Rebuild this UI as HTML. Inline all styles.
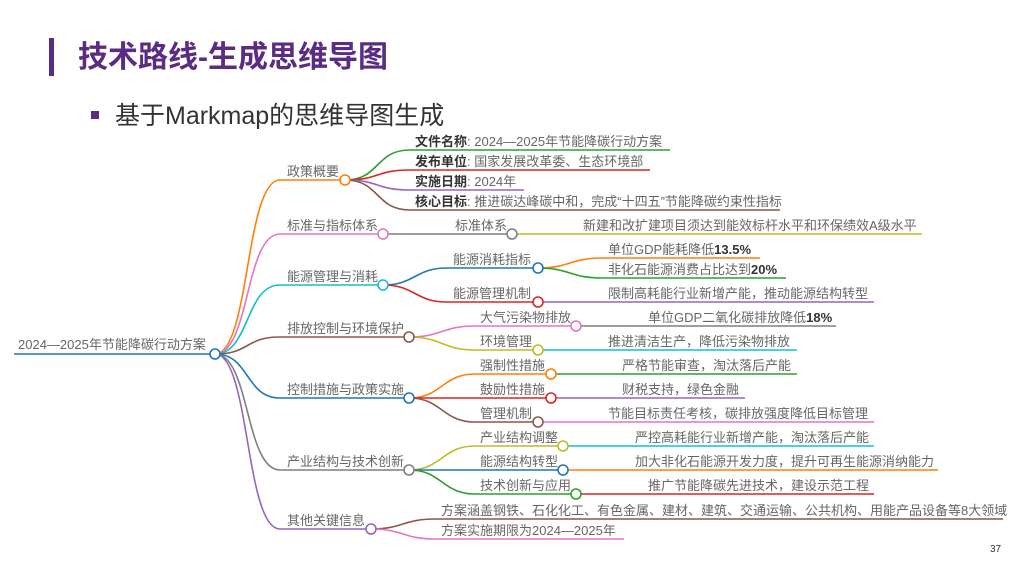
<!DOCTYPE html>
<html><head><meta charset="utf-8"><style>
body{margin:0;width:1024px;height:576px;overflow:hidden;background:#fff}
svg{display:block}
text{font-family:"Liberation Sans","Noto Sans CJK SC",sans-serif}
.t{font-size:13px;fill:#666}
.b{font-weight:bold;fill:#333}
path{fill:none;stroke-width:1.6}
circle{fill:#fff;stroke-width:1.6}
</style></head><body>
<svg width="1024" height="576" viewBox="0 0 1024 576">
<rect x="49" y="38" width="5" height="38" fill="#5b2c83"/>
<text x="78" y="67" font-size="30" font-weight="bold" fill="#5b2c83">技术路线-生成思维导图</text>
<rect x="91" y="111" width="8" height="8" fill="#5b2c83"/>
<text x="115" y="124" font-size="25" fill="#333">基于Markmap的思维导图生成</text>
<text x="990" y="552" font-size="10" fill="#333">37</text>

<path d="M14 354 H210" stroke="#1f77b4"/>
<text class="t" x="18" y="349">2024—2025年节能降碳行动方案</text>

<path d="M215 354 C250 354,245 180,280 180 H340" stroke="#ff7f0e"/>
<path d="M215 354 C250 354,245 234,280 234 H378" stroke="#e377c2"/>
<path d="M215 354 C250 354,245 285,280 285 H378" stroke="#17becf"/>
<path d="M215 354 C250 354,245 337,280 337 H404" stroke="#8c564b"/>
<path d="M215 354 C250 354,245 398,280 398 H404" stroke="#1f77b4"/>
<path d="M215 354 C250 354,245 470,280 470 H404" stroke="#7f7f7f"/>
<path d="M215 354 C250 354,245 529,280 529 H366" stroke="#9467bd"/>
<text class="t" x="287" y="176">政策概要</text>
<text class="t" x="287" y="230">标准与指标体系</text>
<text class="t" x="287" y="281">能源管理与消耗</text>
<text class="t" x="287" y="333">排放控制与环境保护</text>
<text class="t" x="287" y="394">控制措施与政策实施</text>
<text class="t" x="287" y="466">产业结构与技术创新</text>
<text class="t" x="287" y="525">其他关键信息</text>

<path d="M345 180 C380 180,375 150,410 150 H670" stroke="#2ca02c"/>
<path d="M345 180 C380 180,375 170,410 170 H650" stroke="#d62728"/>
<path d="M345 180 C380 180,375 190,410 190 H524" stroke="#9467bd"/>
<path d="M345 180 C380 180,375 210,410 210 H780" stroke="#8c564b"/>
<text class="t" x="415" y="146"><tspan class="b">文件名称</tspan>: 2024—2025年节能降碳行动方案</text>
<text class="t" x="415" y="166"><tspan class="b">发布单位</tspan>: 国家发展改革委、生态环境部</text>
<text class="t" x="415" y="186"><tspan class="b">实施日期</tspan>: 2024年</text>
<text class="t" x="415" y="206"><tspan class="b">核心目标</tspan>: 推进碳达峰碳中和，完成“十四五”节能降碳约束性指标</text>

<path d="M383 234 H507" stroke="#7f7f7f"/>
<path d="M512 234 H922" stroke="#bcbd22"/>
<text class="t" x="455" y="230">标准体系</text>
<text class="t" x="583" y="230">新建和改扩建项目须达到能效标杆水平和环保绩效A级水平</text>

<path d="M383 285 C415 285,415 268,447 268 H533" stroke="#1f77b4"/>
<path d="M383 285 C415 285,415 302,447 302 H533" stroke="#d62728"/>
<text class="t" x="453" y="264">能源消耗指标</text>
<text class="t" x="453" y="298">能源管理机制</text>
<path d="M538 268 C570 268,570 258,602 258 H760" stroke="#ff7f0e"/>
<path d="M538 268 C570 268,570 278,602 278 H786" stroke="#2ca02c"/>
<path d="M538 302 H874" stroke="#9467bd"/>
<text class="t" x="608" y="254">单位GDP能耗降低<tspan class="b">13.5%</tspan></text>
<text class="t" x="608" y="274">非化石能源消费占比达到<tspan class="b">20%</tspan></text>
<text class="t" x="608" y="298">限制高耗能行业新增产能，推动能源结构转型</text>

<path d="M409 337 C442 337,442 326,475 326 H571" stroke="#e377c2"/>
<path d="M409 337 C442 337,442 350,475 350 H533" stroke="#bcbd22"/>
<text class="t" x="480" y="322">大气污染物排放</text>
<text class="t" x="480" y="346">环境管理</text>
<path d="M576 326 H836" stroke="#7f7f7f"/>
<path d="M538 350 H797" stroke="#17becf"/>
<text class="t" x="648" y="322">单位GDP二氧化碳排放降低<tspan class="b">18%</tspan></text>
<text class="t" x="608" y="346">推进清洁生产，降低污染物排放</text>

<path d="M409 398 C442 398,442 374,475 374 H546" stroke="#ff7f0e"/>
<path d="M409 398 H546" stroke="#d62728"/>
<path d="M409 398 C442 398,442 422,475 422 H533" stroke="#8c564b"/>
<text class="t" x="480" y="370">强制性措施</text>
<text class="t" x="480" y="394">鼓励性措施</text>
<text class="t" x="480" y="418">管理机制</text>
<path d="M551 374 H797" stroke="#2ca02c"/>
<path d="M551 398 H745" stroke="#9467bd"/>
<path d="M538 422 H874" stroke="#e377c2"/>
<text class="t" x="622" y="370">严格节能审查，淘汰落后产能</text>
<text class="t" x="622" y="394">财税支持，绿色金融</text>
<text class="t" x="608" y="418">节能目标责任考核，碳排放强度降低目标管理</text>

<path d="M409 470 C442 470,442 446,475 446 H558" stroke="#bcbd22"/>
<path d="M409 470 H558" stroke="#1f77b4"/>
<path d="M409 470 C442 470,442 494,475 494 H571" stroke="#2ca02c"/>
<text class="t" x="480" y="442">产业结构调整</text>
<text class="t" x="480" y="466">能源结构转型</text>
<text class="t" x="480" y="490">技术创新与应用</text>
<path d="M563 446 H874" stroke="#17becf"/>
<path d="M563 470 H938" stroke="#ff7f0e"/>
<path d="M576 494 H874" stroke="#d62728"/>
<text class="t" x="635" y="442">严控高耗能行业新增产能，淘汰落后产能</text>
<text class="t" x="635" y="466">加大非化石能源开发力度，提升可再生能源消纳能力</text>
<text class="t" x="648" y="490">推广节能降碳先进技术，建设示范工程</text>

<path d="M371 529 C403 529,403 519,435 519 H1003" stroke="#8c564b"/>
<path d="M371 529 C403 529,403 539,435 539 H624" stroke="#e377c2"/>
<text class="t" x="441" y="515">方案涵盖钢铁、石化化工、有色金属、建材、建筑、交通运输、公共机构、用能产品设备等8大领域</text>
<text class="t" x="441" y="535">方案实施期限为2024—2025年</text>

<circle cx="215" cy="354" r="5" stroke="#1f77b4"/>
<circle cx="345" cy="180" r="5" stroke="#ff7f0e"/>
<circle cx="383" cy="234" r="5" stroke="#e377c2"/>
<circle cx="383" cy="285" r="5" stroke="#17becf"/>
<circle cx="409" cy="337" r="5" stroke="#8c564b"/>
<circle cx="409" cy="398" r="5" stroke="#1f77b4"/>
<circle cx="409" cy="470" r="5" stroke="#7f7f7f"/>
<circle cx="371" cy="529" r="5" stroke="#9467bd"/>
<circle cx="512" cy="234" r="5" stroke="#7f7f7f"/>
<circle cx="538" cy="268" r="5" stroke="#1f77b4"/>
<circle cx="538" cy="302" r="5" stroke="#d62728"/>
<circle cx="576" cy="326" r="5" stroke="#e377c2"/>
<circle cx="538" cy="350" r="5" stroke="#bcbd22"/>
<circle cx="551" cy="374" r="5" stroke="#ff7f0e"/>
<circle cx="551" cy="398" r="5" stroke="#d62728"/>
<circle cx="538" cy="422" r="5" stroke="#8c564b"/>
<circle cx="563" cy="446" r="5" stroke="#bcbd22"/>
<circle cx="563" cy="470" r="5" stroke="#1f77b4"/>
<circle cx="576" cy="494" r="5" stroke="#2ca02c"/>
</svg>
</body></html>
